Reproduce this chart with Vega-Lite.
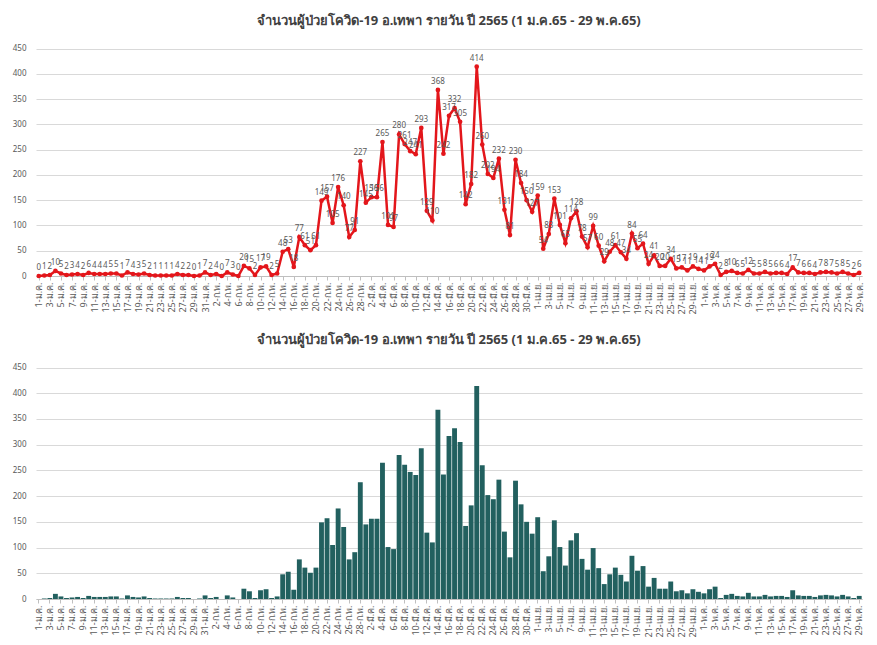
{
  "$schema": "https://vega.github.io/schema/vega-lite/v6.json",
  "background": "white",
  "padding": {"left": 12, "top": 14, "right": 10, "bottom": 3},
  "datasets": {
    "c": [
      {"d":"1-ม.ค.","v":0},{"d":"2-ม.ค.","v":1},{"d":"3-ม.ค.","v":2},{"d":"4-ม.ค.","v":10},{"d":"5-ม.ค.","v":5},{"d":"6-ม.ค.","v":2},{"d":"7-ม.ค.","v":3},{"d":"8-ม.ค.","v":4},{"d":"9-ม.ค.","v":2},{"d":"10-ม.ค.","v":6},
      {"d":"11-ม.ค.","v":4},{"d":"12-ม.ค.","v":4},{"d":"13-ม.ค.","v":4},{"d":"14-ม.ค.","v":5},{"d":"15-ม.ค.","v":5},{"d":"16-ม.ค.","v":1},{"d":"17-ม.ค.","v":7},{"d":"18-ม.ค.","v":4},{"d":"19-ม.ค.","v":3},{"d":"20-ม.ค.","v":5},
      {"d":"21-ม.ค.","v":2},{"d":"22-ม.ค.","v":1},{"d":"23-ม.ค.","v":1},{"d":"24-ม.ค.","v":1},{"d":"25-ม.ค.","v":1},{"d":"26-ม.ค.","v":4},{"d":"27-ม.ค.","v":2},{"d":"28-ม.ค.","v":2},{"d":"29-ม.ค.","v":0},{"d":"30-ม.ค.","v":1},{"d":"31-ม.ค.","v":7},
      {"d":"1-ก.พ.","v":2},{"d":"2-ก.พ.","v":4},{"d":"3-ก.พ.","v":0},{"d":"4-ก.พ.","v":7},{"d":"5-ก.พ.","v":3},{"d":"6-ก.พ.","v":0},{"d":"7-ก.พ.","v":20},{"d":"8-ก.พ.","v":15},{"d":"9-ก.พ.","v":2},{"d":"10-ก.พ.","v":17},
      {"d":"11-ก.พ.","v":19},{"d":"12-ก.พ.","v":2},{"d":"13-ก.พ.","v":5},{"d":"14-ก.พ.","v":48},{"d":"15-ก.พ.","v":53},{"d":"16-ก.พ.","v":18},{"d":"17-ก.พ.","v":77},{"d":"18-ก.พ.","v":61},{"d":"19-ก.พ.","v":51},{"d":"20-ก.พ.","v":61},
      {"d":"21-ก.พ.","v":149},{"d":"22-ก.พ.","v":157},{"d":"23-ก.พ.","v":105},{"d":"24-ก.พ.","v":176},{"d":"25-ก.พ.","v":140},{"d":"26-ก.พ.","v":77},{"d":"27-ก.พ.","v":91},{"d":"28-ก.พ.","v":227},
      {"d":"1-มี.ค.","v":145},{"d":"2-มี.ค.","v":156},{"d":"3-มี.ค.","v":156},{"d":"4-มี.ค.","v":265},{"d":"5-มี.ค.","v":101},{"d":"6-มี.ค.","v":97},{"d":"7-มี.ค.","v":280},{"d":"8-มี.ค.","v":261},{"d":"9-มี.ค.","v":247},{"d":"10-มี.ค.","v":241},
      {"d":"11-มี.ค.","v":293},{"d":"12-มี.ค.","v":129},{"d":"13-มี.ค.","v":110},{"d":"14-มี.ค.","v":368},{"d":"15-มี.ค.","v":242},{"d":"16-มี.ค.","v":317},{"d":"17-มี.ค.","v":332},{"d":"18-มี.ค.","v":305},{"d":"19-มี.ค.","v":142},{"d":"20-มี.ค.","v":182},
      {"d":"21-มี.ค.","v":414},{"d":"22-มี.ค.","v":260},{"d":"23-มี.ค.","v":202},{"d":"24-มี.ค.","v":194},{"d":"25-มี.ค.","v":232},{"d":"26-มี.ค.","v":131},{"d":"27-มี.ค.","v":81},{"d":"28-มี.ค.","v":230},{"d":"29-มี.ค.","v":184},{"d":"30-มี.ค.","v":150},{"d":"31-มี.ค.","v":127},
      {"d":"1-เม.ย.","v":159},{"d":"2-เม.ย.","v":54},{"d":"3-เม.ย.","v":83},{"d":"4-เม.ย.","v":153},{"d":"5-เม.ย.","v":101},{"d":"6-เม.ย.","v":65},{"d":"7-เม.ย.","v":114},{"d":"8-เม.ย.","v":128},{"d":"9-เม.ย.","v":78},{"d":"10-เม.ย.","v":57},
      {"d":"11-เม.ย.","v":99},{"d":"12-เม.ย.","v":60},{"d":"13-เม.ย.","v":29},{"d":"14-เม.ย.","v":48},{"d":"15-เม.ย.","v":61},{"d":"16-เม.ย.","v":47},{"d":"17-เม.ย.","v":34},{"d":"18-เม.ย.","v":84},{"d":"19-เม.ย.","v":55},{"d":"20-เม.ย.","v":64},
      {"d":"21-เม.ย.","v":24},{"d":"22-เม.ย.","v":41},{"d":"23-เม.ย.","v":20},{"d":"24-เม.ย.","v":20},{"d":"25-เม.ย.","v":34},{"d":"26-เม.ย.","v":15},{"d":"27-เม.ย.","v":17},{"d":"28-เม.ย.","v":11},{"d":"29-เม.ย.","v":19},{"d":"30-เม.ย.","v":14},
      {"d":"1-พ.ค.","v":11},{"d":"2-พ.ค.","v":19},{"d":"3-พ.ค.","v":24},{"d":"4-พ.ค.","v":2},{"d":"5-พ.ค.","v":8},{"d":"6-พ.ค.","v":10},{"d":"7-พ.ค.","v":6},{"d":"8-พ.ค.","v":5},{"d":"9-พ.ค.","v":12},{"d":"10-พ.ค.","v":5},
      {"d":"11-พ.ค.","v":5},{"d":"12-พ.ค.","v":8},{"d":"13-พ.ค.","v":5},{"d":"14-พ.ค.","v":6},{"d":"15-พ.ค.","v":6},{"d":"16-พ.ค.","v":4},{"d":"17-พ.ค.","v":17},{"d":"18-พ.ค.","v":7},{"d":"19-พ.ค.","v":6},{"d":"20-พ.ค.","v":6},
      {"d":"21-พ.ค.","v":4},{"d":"22-พ.ค.","v":7},{"d":"23-พ.ค.","v":8},{"d":"24-พ.ค.","v":7},{"d":"25-พ.ค.","v":5},{"d":"26-พ.ค.","v":8},{"d":"27-พ.ค.","v":5},{"d":"28-พ.ค.","v":2},{"d":"29-พ.ค.","v":6}
    ]
  },
  "data": {"name": "c"},
  "config": {
    "font": "Noto Sans",
    "view": {"stroke": null},
    "concat": {"spacing": 18},
    "title": {"fontSize": 13, "fontWeight": "bold", "color": "#404040"},
    "axis": {"labelColor": "#595959", "labelFontSize": 9, "title": null},
    "axisY": {"grid": true, "gridColor": "#d9d9d9", "domain": false, "ticks": false, "labelPadding": 10, "labelFontSize": 8},
    "axisX": {"domainColor": "#bfbfbf", "tickColor": "#bfbfbf", "tickSize": 4, "labelAngle": -90, "labelPadding": 2, "grid": false}
  },
  "vconcat": [
    {
      "title": {"text": "จำนวนผู้ป่วยโควิด-19 อ.เทพา รายวัน ปี 2565 (1 ม.ค.65 - 29 พ.ค.65)", "offset": 17},
      "width": 826,
      "height": 228,
      "encoding": {
        "x": {"field": "d", "type": "ordinal", "sort": null,
          "axis": {"values": ["1-ม.ค.","3-ม.ค.","5-ม.ค.","7-ม.ค.","9-ม.ค.","11-ม.ค.","13-ม.ค.","15-ม.ค.","17-ม.ค.","19-ม.ค.","21-ม.ค.","23-ม.ค.","25-ม.ค.","27-ม.ค.","29-ม.ค.","31-ม.ค.","2-ก.พ.","4-ก.พ.","6-ก.พ.","8-ก.พ.","10-ก.พ.","12-ก.พ.","14-ก.พ.","16-ก.พ.","18-ก.พ.","20-ก.พ.","22-ก.พ.","24-ก.พ.","26-ก.พ.","28-ก.พ.","2-มี.ค.","4-มี.ค.","6-มี.ค.","8-มี.ค.","10-มี.ค.","12-มี.ค.","14-มี.ค.","16-มี.ค.","18-มี.ค.","20-มี.ค.","22-มี.ค.","24-มี.ค.","26-มี.ค.","28-มี.ค.","30-มี.ค.","1-เม.ย.","3-เม.ย.","5-เม.ย.","7-เม.ย.","9-เม.ย.","11-เม.ย.","13-เม.ย.","15-เม.ย.","17-เม.ย.","19-เม.ย.","21-เม.ย.","23-เม.ย.","25-เม.ย.","27-เม.ย.","29-เม.ย.","1-พ.ค.","3-พ.ค.","5-พ.ค.","7-พ.ค.","9-พ.ค.","11-พ.ค.","13-พ.ค.","15-พ.ค.","17-พ.ค.","19-พ.ค.","21-พ.ค.","23-พ.ค.","25-พ.ค.","27-พ.ค.","29-พ.ค."]}},
        "y": {"field": "v", "type": "quantitative", "scale": {"domain": [0, 451], "nice": false}, "axis": {"values": [0,50,100,150,200,250,300,350,400,450]}}
      },
      "layer": [
        {"mark": {"type": "line", "color": "#e3161b", "strokeWidth": 2.5}},
        {"mark": {"type": "point", "filled": true, "color": "#e3161b", "size": 22, "opacity": 1}},
        {"mark": {"type": "text", "dy": -8, "fontSize": 8, "color": "#595959"}, "encoding": {"text": {"field": "v", "type": "quantitative"}}}
      ]
    },
    {
      "title": {"text": "จำนวนผู้ป่วยโควิด-19 อ.เทพา รายวัน ปี 2565 (1 ม.ค.65 - 29 พ.ค.65)", "offset": 17},
      "width": 826,
      "height": 232,
      "mark": {"type": "bar", "color": "#22605f"},
      "encoding": {
        "x": {"field": "d", "type": "ordinal", "sort": null, "scale": {"paddingInner": 0.12, "paddingOuter": 0.06},
          "axis": {"values": ["1-ม.ค.","3-ม.ค.","5-ม.ค.","7-ม.ค.","9-ม.ค.","11-ม.ค.","13-ม.ค.","15-ม.ค.","17-ม.ค.","19-ม.ค.","21-ม.ค.","23-ม.ค.","25-ม.ค.","27-ม.ค.","29-ม.ค.","31-ม.ค.","2-ก.พ.","4-ก.พ.","6-ก.พ.","8-ก.พ.","10-ก.พ.","12-ก.พ.","14-ก.พ.","16-ก.พ.","18-ก.พ.","20-ก.พ.","22-ก.พ.","24-ก.พ.","26-ก.พ.","28-ก.พ.","2-มี.ค.","4-มี.ค.","6-มี.ค.","8-มี.ค.","10-มี.ค.","12-มี.ค.","14-มี.ค.","16-มี.ค.","18-มี.ค.","20-มี.ค.","22-มี.ค.","24-มี.ค.","26-มี.ค.","28-มี.ค.","30-มี.ค.","1-เม.ย.","3-เม.ย.","5-เม.ย.","7-เม.ย.","9-เม.ย.","11-เม.ย.","13-เม.ย.","15-เม.ย.","17-เม.ย.","19-เม.ย.","21-เม.ย.","23-เม.ย.","25-เม.ย.","27-เม.ย.","29-เม.ย.","1-พ.ค.","3-พ.ค.","5-พ.ค.","7-พ.ค.","9-พ.ค.","11-พ.ค.","13-พ.ค.","15-พ.ค.","17-พ.ค.","19-พ.ค.","21-พ.ค.","23-พ.ค.","25-พ.ค.","27-พ.ค.","29-พ.ค."]}},
        "y": {"field": "v", "type": "quantitative", "scale": {"domain": [0, 451], "nice": false}, "axis": {"values": [0,50,100,150,200,250,300,350,400,450]}}
      }
    }
  ]
}
